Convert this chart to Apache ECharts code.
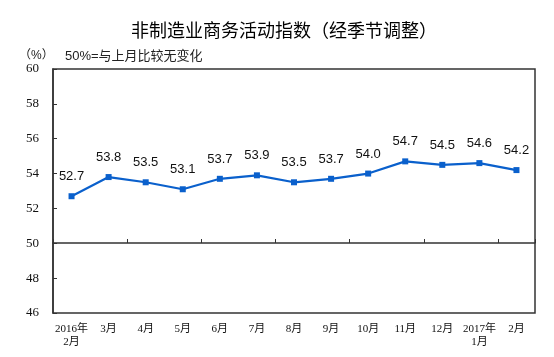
<!DOCTYPE html>
<html><head><meta charset="utf-8">
<script src="https://cdn.jsdelivr.net/npm/echarts@6/dist/echarts.min.js"></script>
<style>html,body{margin:0;padding:0;background:#fff}#c{width:554px;height:357px}</style>
</head><body><div id="c"></div>
<script>
const categories = ['2016年\n2月','3月','4月','5月','6月','7月','8月','9月','10月','11月','12月','2017年\n1月','2月'];
const values = [52.7, 53.8, 53.5, 53.1, 53.7, 53.9, 53.5, 53.7, 54.0, 54.7, 54.5, 54.6, 54.2];
const yTicks = { min: 46, max: 60, interval: 2 };
const titleText = '非制造业商务活动指数（经季节调整）';
const unitText = '（%）';
const noteText = '50%=与上月比较无变化';

const chart = echarts.init(document.getElementById('c'), null, {renderer: 'canvas'});
const serif = "'Liberation Serif', 'Noto Sans CJK SC', serif";
const sans = "'Liberation Sans', 'Noto Sans CJK SC', sans-serif";
chart.setOption({
  animation: false,
  backgroundColor: '#fff',
  title: [
    { text: titleText, left: 126, top: 18, textStyle: { fontSize: 18, fontWeight: 'normal', color: '#000', fontFamily: sans } },
    { text: unitText, left: 14, top: 45, textStyle: { fontSize: 12, fontWeight: 'normal', color: '#222', fontFamily: sans } },
    { text: noteText, left: 60, top: 45, textStyle: { fontSize: 13, fontWeight: 'normal', color: '#222', fontFamily: sans } }
  ],
  grid: { left: 53, right: 19, top: 69, bottom: 44, show: true, borderColor: '#333', borderWidth: 1.5, backgroundColor: 'transparent' },
  xAxis: [
    { type: 'category', data: categories, boundaryGap: true, position: 'bottom',
      axisLine: { show: false }, axisTick: { show: false },
      axisLabel: { margin: 10, fontSize: 11, color: '#111', fontFamily: serif, lineHeight: 13, interval: 0 } },
    { type: 'category', data: categories, boundaryGap: true, position: 'bottom', offset: -70,
      axisLine: { show: true, lineStyle: { color: '#333', width: 1.5 } },
      axisTick: { show: true, inside: true, length: 4, lineStyle: { color: '#333' } },
      axisLabel: { show: false } }
  ],
  yAxis: { type: 'value', min: yTicks.min, max: yTicks.max, interval: yTicks.interval,
    axisLine: { show: true, lineStyle: { color: '#333', width: 1.5 } },
    axisTick: { show: true, inside: true, length: 4, lineStyle: { color: '#333' } },
    splitLine: { show: false },
    axisLabel: { margin: 14, fontSize: 13, color: '#111', fontFamily: serif } },
  series: [{
    type: 'line', data: values, xAxisIndex: 0,
    symbol: 'rect', symbolSize: 6,
    lineStyle: { color: '#0a60cc', width: 2.2 },
    itemStyle: { color: '#0a60cc' },
    label: { show: true, position: 'top', distance: 10, fontSize: 13, color: '#111', fontFamily: sans, formatter: p => p.value.toFixed(1) }
  }]
});
</script></body></html>
